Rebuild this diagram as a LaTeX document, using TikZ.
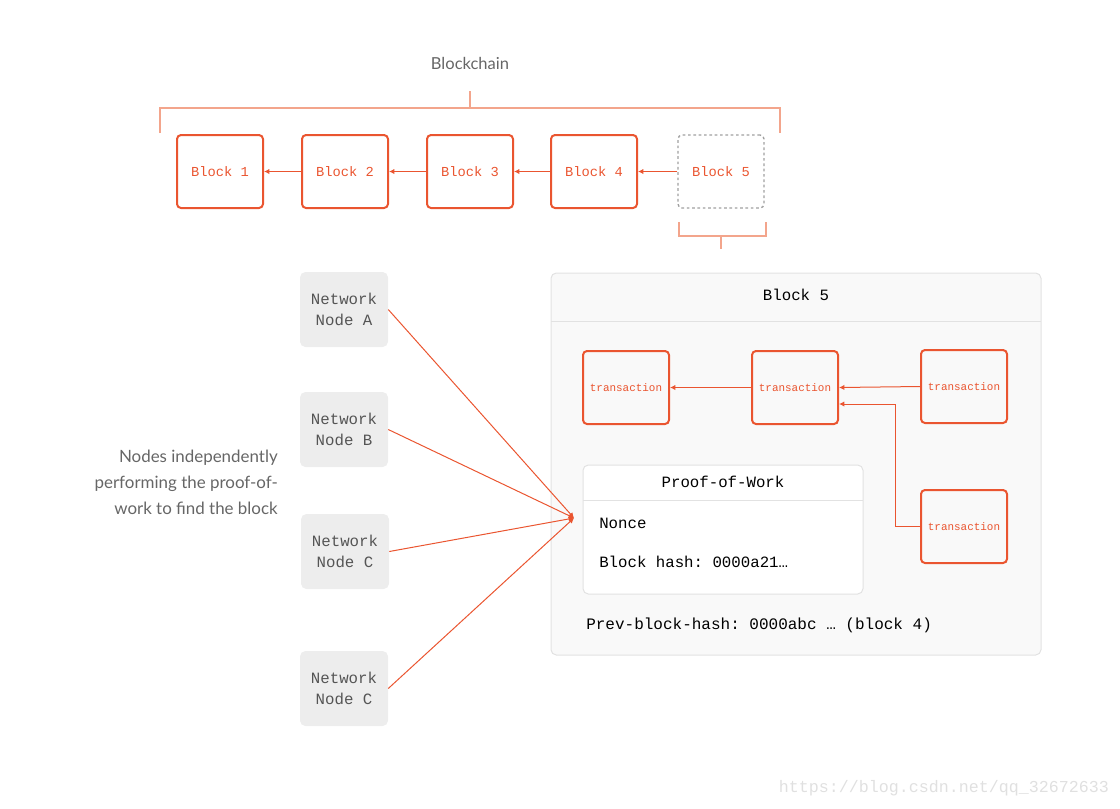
\documentclass[tikz,border=0pt]{standalone}
\usepackage{fontspec}
\setmainfont{Lato}
\setmonofont{Liberation Mono}
\usetikzlibrary{arrows.meta,calc}

\definecolor{chainred}{HTML}{EA5530}
\definecolor{bracered}{HTML}{F3A58C}
\definecolor{nodegray}{HTML}{EDEDED}
\definecolor{nodetext}{HTML}{555555}
\definecolor{capgray}{HTML}{666666}
\definecolor{panelfill}{HTML}{F9F9F9}
\definecolor{panelline}{HTML}{E2E2E2}

\tikzset{
  blockbox/.style={draw=chainred, line width=1.5pt, rounded corners=3pt,
    minimum width=64.5pt, minimum height=54.75pt, text=chainred,
    font=\ttfamily\fontsize{10.3}{12}\selectfont},
  txbox/.style={blockbox, font=\ttfamily\fontsize{8.2}{10}\selectfont},
  netnode/.style={fill=nodegray, rounded corners=4pt, minimum width=66pt,
    minimum height=56.25pt, text=nodetext, align=center,
    font=\ttfamily\fontsize{11.8}{15.75}\selectfont},
  link/.style={draw=chainred, line width=0.75pt, -{Latex[length=4pt,width=4pt]}},
  brace/.style={draw=bracered, line width=1pt},
  panelbox/.style={draw=panelline, line width=0.75pt, rounded corners=4pt},
  monotext/.style={font=\ttfamily\fontsize{11.8}{14}\selectfont},
}

\begin{document}
\begin{tikzpicture}[x=0.75pt, y=-0.75pt]
  \useasboundingbox (0,0) rectangle (1120,808);

  % Blockchain
  \node[text=capgray, font=\fontsize{12.4}{14}\selectfont] (chainlbl) at (470,63) {Blockchain};
  \draw[brace] (160,133) -- (160,108) -- (780,108) -- (780,133);
  \draw[brace] (470,108) -- (470,91);

  \node[blockbox] (b1) at (220,171.5) {Block 1};
  \node[blockbox] (b2) at (345,171.5) {Block 2};
  \node[blockbox] (b3) at (470,171.5) {Block 3};
  \node[blockbox] (b4) at (594,171.5) {Block 4};
  \node[blockbox, draw=gray!75, line width=1pt, dash pattern=on 2pt off 2pt] (b5) at (721,171.5) {Block 5};

  \draw[link] (b2) -- (b1);
  \draw[link] (b3) -- (b2);
  \draw[link] (b4) -- (b3);
  \draw[link] (b5) -- (b4);

  \draw[brace] (679,222) -- (679,236) -- (766,236) -- (766,222);
  \draw[brace] (721,236) -- (721,249);

  % Block 5 en detail
  \node[panelbox, fill=panelfill, minimum width=367.5pt, minimum height=286.5pt] (blk5) at (796,464) {};
  \draw[panelline, line width=0.75pt] (551,321) -- (1041,321);
  \node[monotext] (blk5title) at (796,295) {Block 5};

  \node[txbox] (t1) at (626,387.5) {transaction};
  \node[txbox] (t2) at (795,387.5) {transaction};
  \node[txbox] (t3) at (964,386.5) {transaction};
  \node[txbox] (t4) at (964,526.5) {transaction};

  \draw[link] (t2) -- (t1);
  \draw[link] (t3.west) -- (t2.east);
  \draw[link] (t4.west) -- ++(-25,0) |- ($(t2.east)+(0,16.5)$);

  % Proof-of-Work
  \node[panelbox, fill=white, minimum width=210pt, minimum height=96.75pt] (pow) at (723,529.5) {};
  \draw[panelline, line width=0.75pt] (583,500) -- (863,500);
  \node[monotext] (powtitle) at (723,482) {Proof-of-Work};
  \node[monotext, anchor=west, inner sep=0pt] (nonce) at (599,523) {Nonce};
  \node[monotext, anchor=west, inner sep=0pt] (hash) at (599,562) {Block hash: 0000a21…};
  \node[monotext, anchor=west, inner sep=0pt, font=\ttfamily\fontsize{12}{14}\selectfont] (prev) at (586,625) {Prev-block-hash: 0000abc … (block 4)};

  % Noeuds du reseau
  \node[netnode] (na) at (344,309.5) {Network\\Node A};
  \node[netnode] (nb) at (344,429.5) {Network\\Node B};
  \node[netnode] (nc) at (345,551.5) {Network\\Node C};
  \node[netnode] (nd) at (344,688.5) {Network\\Node C};

  \coordinate (hit) at (574,518);
  \draw[link] (na.east) -- (hit);
  \draw[link] (nb.east) -- (hit);
  \draw[link] (nc.east) -- (hit);
  \draw[link] (nd.east) -- (hit);

  \node[anchor=east, align=right, text=capgray, inner sep=0pt,
    font=\fontsize{12.7}{19.5}\selectfont] (caption) at (278,482)
    {Nodes independently\\performing the proof-of-\\work to find the block};

  \node[text=black!12, font=\ttfamily\fontsize{12.5}{15}\selectfont] (wm) at (944,788) {https://blog.csdn.net/qq\_32672633};
\end{tikzpicture}
\end{document}
